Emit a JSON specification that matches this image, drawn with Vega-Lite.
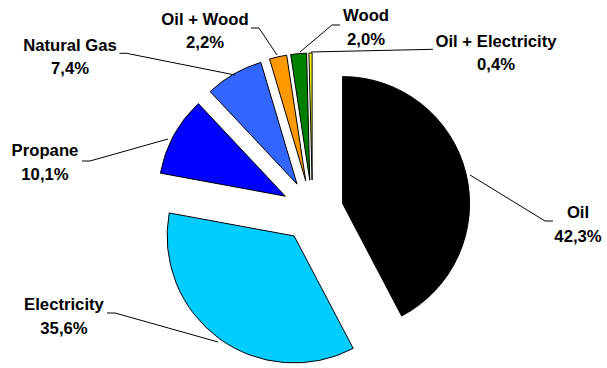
{
  "$schema": "https://vega.github.io/schema/vega-lite/v6.json",
  "width": 607,
  "height": 368,
  "padding": 0,
  "autosize": {"type": "fit", "contains": "padding"},
  "background": "white",
  "config": {"view": {"stroke": null}},
  "datasets": {
    "slices": [
      {"category": "Oil", "value": 42.3, "order": 1},
      {"category": "Electricity", "value": 35.6, "order": 2},
      {"category": "Propane", "value": 10.1, "order": 3},
      {"category": "Natural Gas", "value": 7.4, "order": 4},
      {"category": "Oil + Wood", "value": 2.2, "order": 5},
      {"category": "Wood", "value": 2.0, "order": 6},
      {"category": "Oil + Electricity", "value": 0.4, "order": 7}
    ],
    "labelpos": [
      {"category": "Oil", "tx": 2.0906, "ty": -0.0866},
      {"category": "Electricity", "tx": -1.9567, "ty": -0.8071},
      {"category": "Propane", "tx": -2.1063, "ty": 0.4016},
      {"category": "Natural Gas", "tx": -1.9094, "ty": 1.2323},
      {"category": "Oil + Wood", "tx": -0.8465, "ty": 1.4409},
      {"category": "Wood", "tx": 0.4213, "ty": 1.4646},
      {"category": "Oil + Electricity", "tx": 1.4449, "ty": 1.2677}
    ],
    "leaders": [
      {"category": "Oil", "step": 1, "lx": 1.2402, "ly": 0.2835},
      {"category": "Oil", "step": 2, "lx": 1.8307, "ly": -0.0787},
      {"category": "Oil", "step": 3, "lx": 1.8937, "ly": -0.0787},
      {"category": "Electricity", "step": 1, "lx": -0.7441, "ly": -1.0315},
      {"category": "Electricity", "step": 2, "lx": -1.5551, "ly": -0.8031},
      {"category": "Electricity", "step": 3, "lx": -1.6181, "ly": -0.8031},
      {"category": "Propane", "step": 1, "lx": -1.1378, "ly": 0.5669},
      {"category": "Propane", "step": 2, "lx": -1.752, "ly": 0.3937},
      {"category": "Propane", "step": 3, "lx": -1.815, "ly": 0.3937},
      {"category": "Natural Gas", "step": 1, "lx": -0.6102, "ly": 1.0709},
      {"category": "Natural Gas", "step": 2, "lx": -1.4646, "ly": 1.2417},
      {"category": "Natural Gas", "step": 3, "lx": -1.5197, "ly": 1.2417},
      {"category": "Oil + Wood", "step": 1, "lx": -0.2795, "ly": 1.2283},
      {"category": "Oil + Wood", "step": 2, "lx": -0.4213, "ly": 1.4409},
      {"category": "Oil + Wood", "step": 3, "lx": -0.4843, "ly": 1.4409},
      {"category": "Wood", "step": 1, "lx": -0.0984, "ly": 1.252},
      {"category": "Wood", "step": 2, "lx": 0.1535, "ly": 1.4646},
      {"category": "Wood", "step": 3, "lx": 0.2165, "ly": 1.4646},
      {"category": "Oil + Electricity", "step": 1, "lx": -0.0118, "ly": 1.252},
      {"category": "Oil + Electricity", "step": 2, "lx": 0.9488, "ly": 1.2732}
    ]
  },
  "layer": [
    {
      "data": {"name": "slices"},
      "transform": [
        {"window": [{"op": "sum", "field": "value", "as": "end"}], "sort": [{"field": "order"}], "frame": [null, 0]},
        {"calculate": "datum.end - datum.value", "as": "start"},
        {"calculate": "(datum.start + datum.end) / 100 * PI", "as": "mid"},
        {"calculate": "0.244 * sin(datum.mid)", "as": "cx"},
        {"calculate": "0.244 * cos(datum.mid)", "as": "cy"}
      ],
      "mark": {"type": "arc", "radius": 127, "stroke": "black", "strokeWidth": 1},
      "encoding": {
        "theta": {"field": "start", "type": "quantitative", "stack": null, "scale": {"domain": [0, 100], "range": [0, 6.283185307179586]}},
        "theta2": {"field": "end"},
        "x": {"field": "cx", "type": "quantitative", "axis": null, "scale": {"domain": [-2.4606, 2.3189], "nice": false, "zero": false}},
        "y": {"field": "cy", "type": "quantitative", "axis": null, "scale": {"domain": [-1.2362, 1.6614], "nice": false, "zero": false}},
        "color": {
          "field": "category",
          "type": "nominal",
          "legend": null,
          "scale": {
            "domain": ["Oil", "Electricity", "Propane", "Natural Gas", "Oil + Wood", "Wood", "Oil + Electricity"],
            "range": ["#000000", "#00CCFF", "#0000FF", "#3366FF", "#FF9900", "#008000", "#FFFF00"]
          }
        }
      }
    },
    {
      "data": {"name": "leaders"},
      "mark": {"type": "line", "color": "black", "strokeWidth": 1},
      "encoding": {
        "x": {"field": "lx", "type": "quantitative", "axis": null, "scale": {"domain": [-2.4606, 2.3189], "nice": false, "zero": false}},
        "y": {"field": "ly", "type": "quantitative", "axis": null, "scale": {"domain": [-1.2362, 1.6614], "nice": false, "zero": false}},
        "detail": {"field": "category", "type": "nominal"},
        "order": {"field": "step", "type": "quantitative"}
      }
    },
    {
      "data": {"name": "slices"},
      "transform": [
        {"lookup": "category", "from": {"data": {"name": "labelpos"}, "key": "category", "fields": ["tx", "ty"]}},
        {"calculate": "datum.category + '\\n' + replace(format(datum.value, '.1f'), '.', ',') + '%'", "as": "label"}
      ],
      "mark": {"type": "text", "font": "Liberation Sans", "fontSize": 16.7, "fontWeight": "bold", "align": "center", "baseline": "middle", "lineBreak": "\n", "lineHeight": 23.5, "dy": -8.5, "color": "black"},
      "encoding": {
        "x": {"field": "tx", "type": "quantitative", "axis": null, "scale": {"domain": [-2.4606, 2.3189], "nice": false, "zero": false}},
        "y": {"field": "ty", "type": "quantitative", "axis": null, "scale": {"domain": [-1.2362, 1.6614], "nice": false, "zero": false}},
        "text": {"field": "label", "type": "nominal"}
      }
    }
  ]
}
